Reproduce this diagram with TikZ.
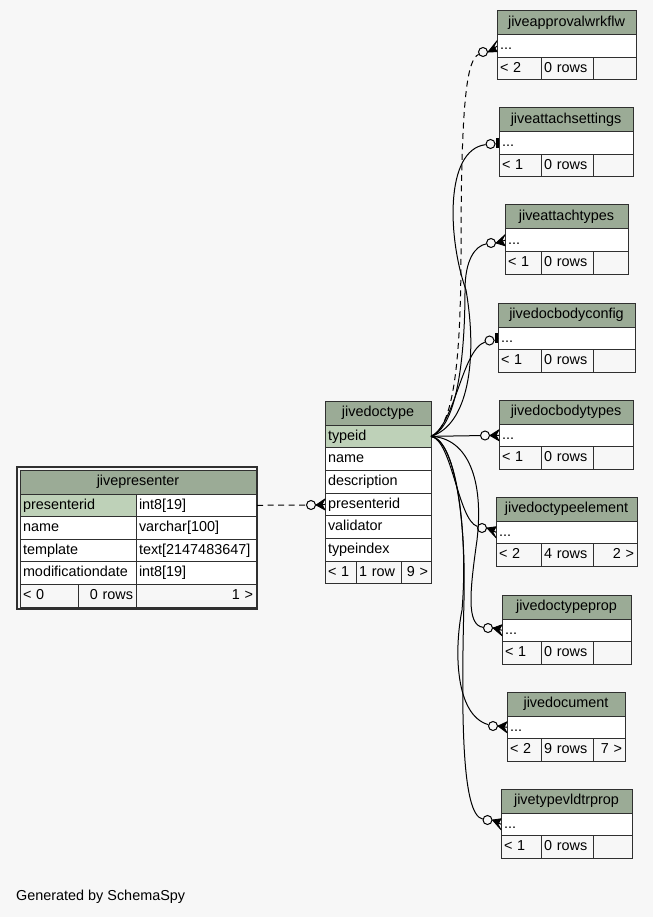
\documentclass[tikz,border=0pt]{standalone}
\usepackage{fontspec}
\setmainfont{Liberation Sans}
\definecolor{bgc}{HTML}{F7F7F7}
\definecolor{hdrc}{HTML}{9BAB96}
\definecolor{pkc}{HTML}{BED1B8}
\definecolor{linec}{HTML}{303030}
\tikzset{
  ercellstyle/.style={draw=linec, line width=1pt, anchor=north west, inner xsep=3pt, inner ysep=0pt, outer sep=0pt, text height=10.5pt, text depth=3pt, font=\fontsize{14.4}{17}\selectfont},
  relline/.style={draw=black, line width=1pt},
  impline/.style={relline, dash pattern=on 6pt off 4.5pt},
  zc/.style={circle, draw=black, fill=bgc, minimum size=9pt, inner sep=0pt, line width=1pt},
}
\newcommand\ercell[8]{%
  \pgfmathsetmacro\ercelltw{#4-6}%
  \node[ercellstyle, fill=#6, align=#7, minimum width=#4pt, text width=\ercelltw pt, minimum height=#5pt] (#1) at (#2,#3) {#8};%
}
\newcommand\errtable[8]{%
  \pgfmathsetmacro\errW{#4-#2}%
  \pgfmathsetmacro\errYa{#3+24}%
  \pgfmathsetmacro\errYb{#3+46.5}%
  \pgfmathsetmacro\errWa{541-#2}%
  \pgfmathsetmacro\errWc{#4-593}%
  \ercell{#1-h}{#2}{#3}{\errW}{24}{hdrc}{center}{#5}%
  \ercell{#1-r}{#2}{\errYa}{\errW}{22.5}{white}{left}{...}%
  \ercell{#1-s1}{#2}{\errYb}{\errWa}{22.5}{bgc}{left}{#6}%
  \ercell{#1-s2}{541}{\errYb}{52}{22.5}{bgc}{left}{#7}%
  \ercell{#1-s3}{593}{\errYb}{\errWc}{22.5}{bgc}{right}{#8}%
}
\newcommand\ercrow[2]{%
  \filldraw[black, line width=0.8pt, line join=round] (#1.east) -- ([yshift=5.5pt]#2.west) -- ([xshift=-3pt]#2.west) -- ([yshift=-5.5pt]#2.west) -- cycle;
  \draw[relline] (#1.east) -- (#2.west);
}
\newcommand\ertee[2]{%
  \draw[relline] (#1.east) -- (#2.west);
  \draw[black, line width=3pt] ([xshift=-1.5pt,yshift=5pt]#2.west) -- ([xshift=-1.5pt,yshift=-5pt]#2.west);
}
\begin{document}
\begin{tikzpicture}[x=1pt,y=-1pt]
\fill[bgc] (0,0) rectangle (653,917);
\useasboundingbox (0,0) rectangle (653,917);

% jivepresenter
\node[draw=linec, line width=2pt, minimum width=240pt, minimum height=142pt, anchor=north west, inner sep=0pt, outer sep=0pt] (pr) at (17,467) {};
\ercell{pr-h}{20}{470}{236}{24}{hdrc}{center}{jivepresenter}
\ercell{pr-pid}{20}{494}{116}{22.6}{pkc}{left}{presenterid}
\ercell{pr-pidt}{136}{494}{120}{22.6}{white}{left}{int8[19]}
\ercell{pr-name}{20}{516.6}{116}{22.6}{white}{left}{name}
\ercell{pr-namet}{136}{516.6}{120}{22.6}{white}{left}{varchar[100]}
\ercell{pr-tpl}{20}{539.2}{116}{22.6}{white}{left}{template}
\ercell{pr-tplt}{136}{539.2}{120}{22.6}{white}{left}{text[2147483647]}
\ercell{pr-mod}{20}{561.8}{116}{22.6}{white}{left}{modificationdate}
\ercell{pr-modt}{136}{561.8}{120}{22.6}{white}{left}{int8[19]}
\ercell{pr-s1}{20}{584.4}{58}{22.6}{bgc}{left}{< 0}
\ercell{pr-s2}{78}{584.4}{58}{22.6}{bgc}{right}{0 rows}
\ercell{pr-s3}{136}{584.4}{120}{22.6}{bgc}{right}{1 >}

% jivedoctype
\ercell{dt-h}{325}{401}{106}{24}{hdrc}{center}{jivedoctype}
\ercell{dt-typeid}{325}{425}{106}{22.7}{pkc}{left}{typeid}
\ercell{dt-name}{325}{447.7}{106}{22.7}{white}{left}{name}
\ercell{dt-desc}{325}{470.4}{106}{22.7}{white}{left}{description}
\ercell{dt-pid}{325}{493.1}{106}{22.7}{white}{left}{presenterid}
\ercell{dt-val}{325}{515.8}{106}{22.7}{white}{left}{validator}
\ercell{dt-idx}{325}{538.5}{106}{22.7}{white}{left}{typeindex}
\ercell{dt-s1}{325}{561.2}{31}{22.7}{bgc}{left}{< 1}
\ercell{dt-s2}{356}{561.2}{45}{22.7}{bgc}{left}{1 row}
\ercell{dt-s3}{401}{561.2}{30}{22.7}{bgc}{right}{9 >}

% right-hand tables
\errtable{t1}{497}{11}{636}{jiveapprovalwrkflw}{< 2}{0 rows}{}
\errtable{t2}{499}{108}{633}{jiveattachsettings}{< 1}{0 rows}{}
\errtable{t3}{505}{205}{628}{jiveattachtypes}{< 1}{0 rows}{}
\errtable{t4}{498}{303}{635}{jivedocbodyconfig}{< 1}{0 rows}{}
\errtable{t5}{499}{400}{633}{jivedocbodytypes}{< 1}{0 rows}{}
\errtable{t6}{496}{497}{637}{jivedoctypeelement}{< 2}{4 rows}{2 >}
\errtable{t7}{502}{595}{631}{jivedoctypeprop}{< 1}{0 rows}{}
\errtable{t8}{507}{692}{625}{jivedocument}{< 2}{9 rows}{7 >}
\errtable{t9}{501}{789}{632}{jivetypevldtrprop}{< 1}{0 rows}{}

% circles
\node[zc] (c0) at (311,505) {};
\node[zc] (c1) at (483,52) {};
\node[zc] (c2) at (490.5,144) {};
\node[zc] (c3) at (491,243) {};
\node[zc] (c4) at (489.5,340.5) {};
\node[zc] (c5) at (485,435.5) {};
\node[zc] (c6) at (482,528) {};
\node[zc] (c7) at (488,628) {};
\node[zc] (c8) at (493,726) {};
\node[zc] (c9) at (487.5,820) {};

% connectors
\draw[impline] (pr.east |- pr-pid.center) -- (c0);
\ercrow{c0}{dt-pid}

\draw[impline] (dt-typeid.east) .. controls (452,428) and (461,370) .. (461,250) .. controls (461,90) and (468,60) .. (c1);
\ercrow{c1}{t1-r}
\draw[relline] (dt-typeid.east) .. controls (468,425) and (478,360) .. (466,290) .. controls (448,240) and (444,150) .. (c2);
\ertee{c2}{t2-r}
\draw[relline] (dt-typeid.east) .. controls (462,425) and (465,330) .. (465,290) .. controls (465,260) and (475,246) .. (c3);
\ercrow{c3}{t3-r}
\draw[relline] (dt-typeid.east) .. controls (455,425) and (462,350) .. (c4);
\ertee{c4}{t4-r}
\draw[relline] (dt-typeid.east) -- (c5);
\ercrow{c5}{t5-r}
\draw[relline] (dt-typeid.east) .. controls (452,440) and (458,520) .. (c6);
\ercrow{c6}{t6-r}
\draw[relline] (dt-typeid.east) .. controls (468,438) and (484,480) .. (477,540) .. controls (470,590) and (466,625) .. (c7);
\ercrow{c7}{t7-r}
\draw[relline] (dt-typeid.east) .. controls (458,440) and (468,540) .. (462,610) .. controls (454,650) and (455,715) .. (c8);
\ercrow{c8}{t8-r}
\draw[relline] (dt-typeid.east) .. controls (455,440) and (466,520) .. (464,600) .. controls (461,720) and (462,815) .. (c9);
\ercrow{c9}{t9-r}

\node[anchor=base west, inner sep=0pt, font=\fontsize{14.4}{17}\selectfont] (gen) at (16,900) {Generated by SchemaSpy};
\end{tikzpicture}
\end{document}
